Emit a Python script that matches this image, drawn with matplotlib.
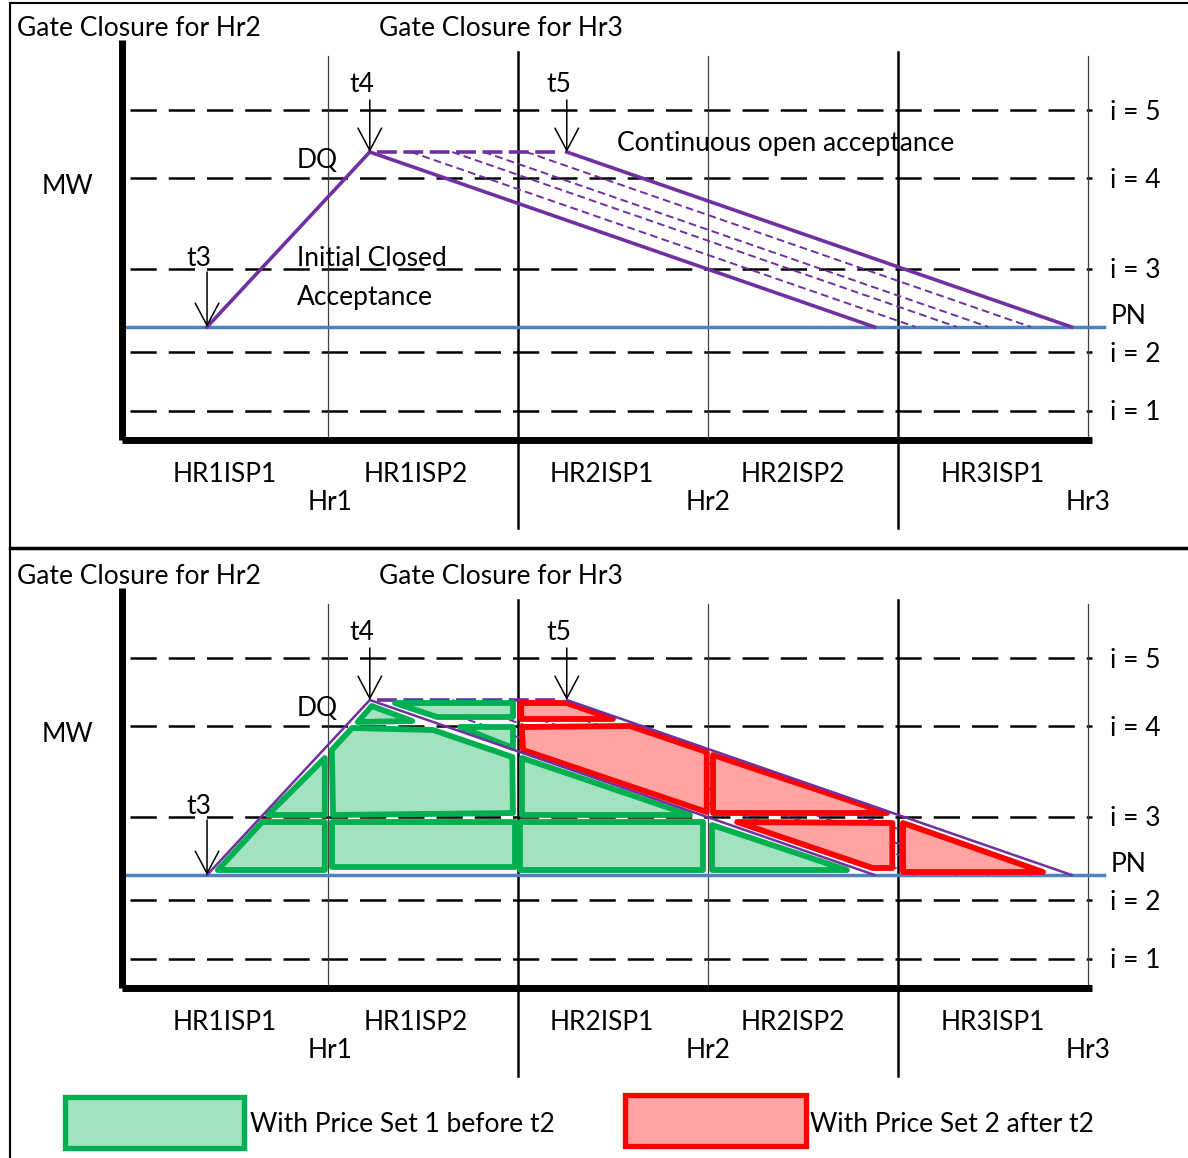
import matplotlib
matplotlib.use("Agg")
import matplotlib.pyplot as plt
from matplotlib.patches import Polygon, Rectangle
from matplotlib.lines import Line2D

plt.rcParams['font.family'] = ['Lato', 'DejaVu Sans']

# ---------------- data (time in minutes, output in MW units) ----------------
levels = [29, 88, 171, 262, 330]
level_labels = ["i = 1", "i = 2", "i = 3", "i = 4", "i = 5"]
PN = 113
DQ = 288
t3, t4, t5 = 10.9, 36.6, 67.7
ramp_down = 79.7
offer_starts = [36.6, 43.1, 49.6, 54.6, 61.3, 67.7]   # first and last solid
isp_bounds = [30, 60, 90, 120, 150]
isp_bound_thick = [False, True, False, True, False]
isp_labels = ["HR1ISP1", "HR1ISP2", "HR2ISP1", "HR2ISP2", "HR3ISP1"]
isp_label_t = [13.7, 43.9, 73.3, 103.4, 135.0]
hour_labels = ["Hr1", "Hr2", "Hr3"]
hour_label_t = [30.3, 90.0, 150.0]

green_polys = [
    [(12.6, 118), (19.6, 166), (29.5, 166), (29.5, 118)],
    [(20.5, 173), (29.5, 230), (29.5, 173)],
    [(30.6, 166), (59.5, 166), (59.5, 121), (30.6, 121)],
    [(30.8, 173), (30.6, 238), (33.8, 260), (46.6, 258), (59.1, 231), (59.2, 175)],
    [(34.7, 266), (36.9, 282), (43.3, 267)],
    [(40.6, 285), (59.2, 285), (59.2, 271), (47.2, 271)],
    [(50.8, 261), (59.2, 261), (59.2, 240)],
    [(60.3, 166), (89.2, 166), (89.2, 118), (60.3, 118)],
    [(60.6, 230), (60.6, 173), (87.2, 173)],
    [(90.6, 163), (90.6, 118), (111.9, 118)],
]
red_polys = [
    [(60.5, 285), (67.7, 285), (75.0, 269), (60.5, 269)],
    [(60.6, 261), (77.7, 262), (89.8, 236), (89.8, 176), (60.8, 238)],
    [(90.8, 233), (90.8, 175), (118.3, 175)],
    [(94.6, 166), (119.1, 165), (119.1, 120), (116.0, 120)],
    [(120.8, 165), (120.8, 116), (142.9, 116)],
]
legend_labels = ["With Price Set 1 before t2", "With Price Set 2 after t2"]

# ---------------- styles ----------------
PURPLE = '#7030A0'
BLUE = '#4F81BD'
GREEN_E, GREEN_F = '#00B050', '#A3E2BF'
RED_E, RED_F = '#FF0000', '#FFA3A3'
FS = 19

W, H = 1188, 1158
fig = plt.figure(figsize=(W / 100, H / 100), dpi=100)

T0_PX, T_SCALE = 138.0, 190.0 / 30.0
def px_to_t(px):
    return (px - T0_PX) / T_SCALE

SPLIT = 548
panels = [
    dict(top=0, bottom=SPLIT, axis_py=440, legend=False, annot=True, plw=2.6),
    dict(top=SPLIT, bottom=H, axis_py=988, legend=True, annot=False, plw=1.8),
]

t_axis = px_to_t(122)
t_right = px_to_t(1092)

for p in panels:
    ax = fig.add_axes([0, 1 - p['bottom'] / H, 1, (p['bottom'] - p['top']) / H])
    ax.set_xlim(px_to_t(0), px_to_t(W))
    ax.set_ylim(p['axis_py'] - p['bottom'], p['axis_py'] - p['top'])
    ax.axis('off')

    # dashed price levels
    for lv, lab in zip(levels, level_labels):
        ax.plot([t_axis + 1.2, t_right], [lv, lv], color='black', lw=1.8,
                dashes=(10.5, 4.8), zorder=2)
        ax.text(153.5, lv - 2, lab, fontsize=FS, va='center', ha='left')
    ax.text(153.5, PN + 11, "PN", fontsize=FS, va='center', ha='left')

    # vertical ISP boundaries
    for tb, thick in zip(isp_bounds, isp_bound_thick):
        if thick:
            ax.plot([tb, tb], [-88, 388], color='black', lw=1.8, zorder=2)
        else:
            ax.plot([tb, tb], [0, 384], color='#404040', lw=0.9, zorder=2)

    # axes
    ax.plot([t_axis, t_axis], [0, 400], color='black', lw=5, solid_capstyle='butt', zorder=6)
    ax.plot([t_axis, t_right], [0, 0], color='black', lw=5, solid_capstyle='butt', zorder=6)

    # PN line
    ax.plot([t_axis, px_to_t(1104)], [PN, PN], color=BLUE, lw=2.5, zorder=3)

    # intermediate dashed offers
    for s in offer_starts[1:-1]:
        ax.plot([s, s + ramp_down], [DQ, PN], color=PURPLE, lw=1.4,
                dashes=(4, 2.2), zorder=3)

    # polygons
    if p['legend']:
        for poly in green_polys:
            ax.add_patch(Polygon(poly, closed=True, facecolor=GREEN_F,
                                 edgecolor=GREEN_E, lw=4.2, joinstyle='round', zorder=4))
        for poly in red_polys:
            ax.add_patch(Polygon(poly, closed=True, facecolor=RED_F,
                                 edgecolor=RED_E, lw=4.2, joinstyle='round', zorder=4))

    # purple profile
    plw = p['plw']
    ax.plot([t3, t4], [PN, DQ], color=PURPLE, lw=plw, zorder=5)
    ax.plot([offer_starts[0], offer_starts[0] + ramp_down], [DQ, PN],
            color=PURPLE, lw=plw, zorder=5)
    ax.plot([offer_starts[-1], offer_starts[-1] + ramp_down], [DQ, PN],
            color=PURPLE, lw=plw, zorder=5)
    ax.plot([t4 + 1.2, t5 - 1.5], [DQ, DQ], color=PURPLE, lw=2.6,
            dashes=(5.5, 1.8), zorder=3)

    # arrows
    for tt, y0, y1, lab, ly in [(t3, PN + 55, PN, "t3", PN + 68),
                                 (t4, DQ + 52, DQ, "t4", DQ + 68),
                                 (t5, DQ + 52, DQ, "t5", DQ + 67)]:
        ax.annotate('', xy=(tt, y1), xytext=(tt, y0),
                    arrowprops=dict(arrowstyle='->,head_length=1.6,head_width=0.85',
                                    lw=1.1, color='black', shrinkA=0, shrinkB=0,
                                    mutation_scale=10), zorder=7)
        ax.text(tt - 1.3, ly, lab, fontsize=FS, ha='center', va='center')

    # texts
    ax.text(px_to_t(17), 412, "Gate Closure for Hr2", fontsize=FS, va='center', ha='left')
    ax.text(px_to_t(379), 411, "Gate Closure for Hr3", fontsize=FS, va='center', ha='left')
    ax.text(px_to_t(42), 254, "MW", fontsize=FS, va='center', ha='left')
    ax.text(px_to_t(297), 279, "DQ", fontsize=FS, va='center', ha='left')
    if p['annot']:
        ax.text(px_to_t(297), 182, "Initial Closed", fontsize=FS, va='center', ha='left')
        ax.text(px_to_t(297), 142, "Acceptance", fontsize=FS, va='center', ha='left')
        ax.text(px_to_t(617), 296, "Continuous open acceptance", fontsize=FS,
                va='center', ha='left')
    for lab, tt in zip(isp_labels, isp_label_t):
        ax.text(tt, -35, lab, fontsize=FS, ha='center', va='center')
    for lab, tt in zip(hour_labels, hour_label_t):
        ax.text(tt, -62, lab, fontsize=FS, ha='center', va='center')

    if p['legend']:
        ax.add_patch(Rectangle((px_to_t(65), -160), px_to_t(244) - px_to_t(65), 51,
                               facecolor=GREEN_F, edgecolor=GREEN_E, lw=3.8, zorder=4))
        ax.text(px_to_t(250), -136, legend_labels[0], fontsize=FS, va='center', ha='left')
        ax.add_patch(Rectangle((px_to_t(625), -158), px_to_t(806) - px_to_t(625), 51,
                               facecolor=RED_F, edgecolor=RED_E, lw=3.8, zorder=4))
        ax.text(px_to_t(810), -136, legend_labels[1], fontsize=FS, va='center', ha='left')

# frame lines (figure coords)
fig.add_artist(Line2D([10 / W, 1], [1 - 3 / H, 1 - 3 / H], color='black', lw=1.5))
fig.add_artist(Line2D([10 / W, 10 / W], [0, 1 - 3 / H], color='black', lw=1.5))
fig.add_artist(Line2D([10 / W, 1], [1 - SPLIT / H, 1 - SPLIT / H], color='black', lw=2.5))

fig.savefig("out.png", dpi=100)
